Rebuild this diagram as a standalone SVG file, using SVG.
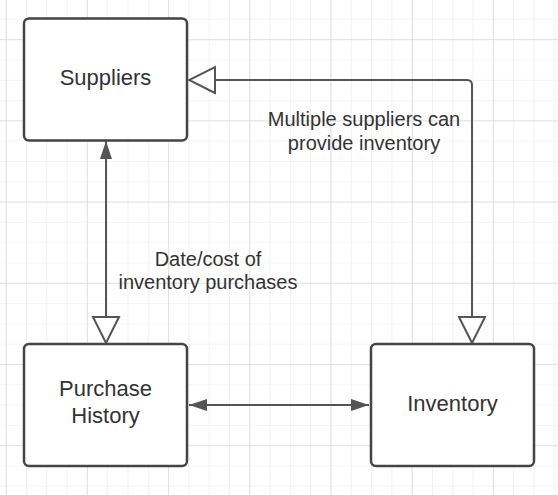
<svg xmlns="http://www.w3.org/2000/svg" width="558" height="495" viewBox="0 0 558 495">
<defs>
<pattern id="minor" x="5.7" y="18.9" width="20.3" height="20.3" patternUnits="userSpaceOnUse">
<path d="M0 0H20.3M0 0V20.3" fill="none" stroke="#e9e9e9" stroke-width="1.2"/>
</pattern>
<pattern id="major" x="5.7" y="39.2" width="81.2" height="81.2" patternUnits="userSpaceOnUse">
<path d="M0 0H81.2M0 0V81.2" fill="none" stroke="#dcdcdc" stroke-width="1.5"/>
</pattern>
<marker id="filled" viewBox="0 0 18 12" refX="18" refY="6" markerWidth="18" markerHeight="12" markerUnits="userSpaceOnUse" orient="auto-start-reverse">
<path d="M0 0L18 6L0 12Z" fill="#555"/>
</marker>
<marker id="open" viewBox="0 0 30 30" refX="28" refY="15" markerWidth="30" markerHeight="30" markerUnits="userSpaceOnUse" orient="auto-start-reverse">
<path d="M2 2L28 15L2 28Z" fill="#fff" stroke="#555" stroke-width="2"/>
</marker>
</defs>
<style>
.node{fill:#fff;stroke:#444;stroke-width:2.5}
.t{font-family:"Liberation Sans",Arial,sans-serif;font-size:22px;fill:#333;text-anchor:middle}
.l{font-family:"Liberation Sans",Arial,sans-serif;font-size:20px;fill:#333;text-anchor:middle}
.c{fill:none;stroke:#555;stroke-width:2}
</style>
<rect width="558" height="495" fill="#fff"/>
<rect width="558" height="495" fill="url(#minor)"/>
<rect width="558" height="495" fill="url(#major)"/>
<g id="connectors">
<path class="c" d="M106 141V343" marker-start="url(#filled)" marker-end="url(#open)"/>
<path class="c" d="M189 80H467Q472 80 472 85V343" marker-start="url(#open)" marker-end="url(#open)"/>
<path class="c" d="M189 405H369" marker-start="url(#filled)" marker-end="url(#filled)"/>
<text class="l" x="364" y="126">Multiple suppliers can</text>
<text class="l" x="364" y="150">provide inventory</text>
<text class="l" x="208" y="266">Date/cost of</text>
<text class="l" x="208" y="289">inventory purchases</text>
</g>
<g id="suppliers">
<rect class="node" x="24" y="18.5" width="163" height="122" rx="5"/>
<text class="t" x="105.5" y="85">Suppliers</text>
</g>
<g id="purchase-history">
<rect class="node" x="24" y="344" width="163" height="122" rx="5"/>
<text class="t" x="105.5" y="396">Purchase</text>
<text class="t" x="105.5" y="423">History</text>
</g>
<g id="inventory">
<rect class="node" x="371" y="344" width="163" height="122" rx="5"/>
<text class="t" x="452.5" y="411">Inventory</text>
</g>
</svg>
